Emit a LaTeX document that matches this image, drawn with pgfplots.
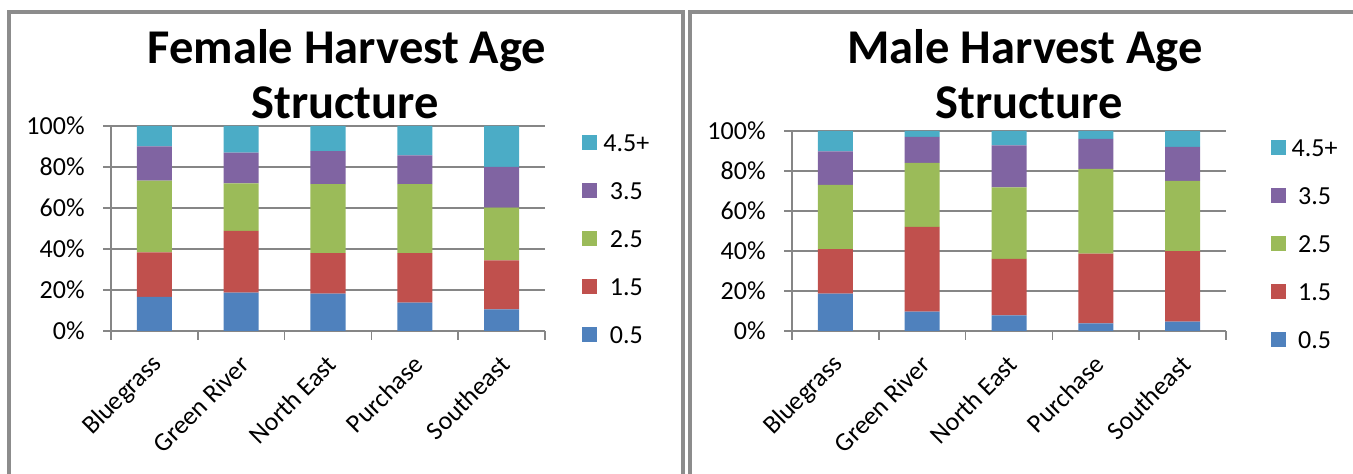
\documentclass[border=0pt]{standalone}
\usepackage{fontspec}
\setmainfont{Carlito}
\usepackage{pgfplots}
\pgfplotsset{compat=1.18}
\usepackage{pgfplotstable}

\definecolor{c05}{HTML}{4F81BD}
\definecolor{c15}{HTML}{C0504D}
\definecolor{c25}{HTML}{9BBB59}
\definecolor{c35}{HTML}{8064A2}
\definecolor{c45}{HTML}{4BACC6}
\definecolor{axgray}{HTML}{868686}
\definecolor{framegray}{HTML}{8C8C8C}

% share of harvest by age class (percent), regions 0..4
\pgfplotstableread{
x  a05  a15  a25  a35  a45
0  16.6 21.8 34.9 16.8  9.9
1  18.7 30.1 23.2 15.0 13.0
2  18.2 19.8 33.7 16.1 12.2
3  13.8 24.2 33.7 14.0 14.3
4  10.6 23.9 25.7 19.8 20.0
}\female

\pgfplotstableread{
x  a05  a15  a25  a35  a45
0  18.7 22.2 32.1 16.8 10.2
1   9.7 42.4 31.9 13.0  3.0
2   7.8 28.3 35.7 21.0  7.2
3   3.8 34.9 42.3 15.0  4.0
4   4.7 35.2 35.1 17.0  8.0
}\male

\pgfplotsset{
  agestyle/.style={
    scale only axis, width=217pt,
    ybar stacked, bar width=17.5pt,
    xmin=-0.5, xmax=4.5, ymin=0, ymax=100,
    xtick={0,...,4},
    xticklabels={Bluegrass,Green River,North East,Purchase,Southeast},
    minor xtick={-0.5,0.5,...,4.5},
    ytick={0,20,...,100},
    yticklabel={\pgfmathprintnumber{\tick}\%},
    axis x line*=bottom, axis y line*=left,
    axis line style={axgray, line width=0.75pt},
    tick align=outside,
    major tick length=4pt, minor tick length=4.5pt,
    tick style={axgray, line width=0.75pt},
    major x tick style={draw=none},
    ymajorgrids, grid style={axgray, line width=0.75pt},
    tick label style={font=\fontsize{13}{15}\selectfont},
    /pgf/number format/assume math mode=true,
    yticklabel style={inner sep=0pt, xshift=-9pt},
    xticklabel style={xshift=2pt, yshift=-10.5pt, rotate=45, anchor=east, inner sep=0pt},
    reverse legend,
    legend style={draw=none, fill=none, inner sep=0pt, anchor=west,
      font=\fontsize{13}{15}\selectfont, row sep=15pt,
      nodes={inner sep=0pt, text height=9pt, text depth=0pt},
      /tikz/every odd column/.append style={column sep=3pt}},
    legend image code/.code={\fill[##1] (0pt,-3.75pt) rectangle (7.5pt,3.75pt);},
  },
}

\begin{document}
\begin{tikzpicture}[x=0.5pt, y=-0.5pt]
\useasboundingbox (0,0) rectangle (1353,474);
\clip (0,0) rectangle (1353,474);

\draw[framegray, line width=2pt] (9,490) -- (9,12.5) -- (683,12.5) -- (683,490);
\draw[framegray, line width=2pt] (690,490) -- (690,12.5) -- (1370,12.5);

\node[anchor=base, font=\fontsize{24.25}{28}\selectfont\bfseries] at (347,64) {Female Harvest Age};
\node[anchor=base, font=\fontsize{24.25}{28}\selectfont\bfseries] at (345,119) {Structure};
\node[anchor=base, font=\fontsize{24.25}{28}\selectfont\bfseries] at (1025,64) {Male Harvest Age};
\node[anchor=base, font=\fontsize{24.25}{28}\selectfont\bfseries] at (1029,119) {Structure};

\begin{axis}[agestyle, height=102.5pt,
  at={(55.5pt,-165.5pt)}, anchor=south west,
  legend style={at={(1.0853,0.452)}}]
\addplot[fill=c05, draw=none] table[x=x, y=a05] {\female}; \addlegendentry{0.5}
\addplot[fill=c15, draw=none] table[x=x, y=a15] {\female}; \addlegendentry{1.5}
\addplot[fill=c25, draw=none] table[x=x, y=a25] {\female}; \addlegendentry{2.5}
\addplot[fill=c35, draw=none] table[x=x, y=a35] {\female}; \addlegendentry{3.5}
\addplot[fill=c45, draw=none] table[x=x, y=a45] {\female}; \addlegendentry{4.5+}
\end{axis}

\begin{axis}[agestyle, height=100pt,
  at={(396pt,-165.5pt)}, anchor=south west,
  legend style={at={(1.1018,0.4375)}}]
\addplot[fill=c05, draw=none] table[x=x, y=a05] {\male}; \addlegendentry{0.5}
\addplot[fill=c15, draw=none] table[x=x, y=a15] {\male}; \addlegendentry{1.5}
\addplot[fill=c25, draw=none] table[x=x, y=a25] {\male}; \addlegendentry{2.5}
\addplot[fill=c35, draw=none] table[x=x, y=a35] {\male}; \addlegendentry{3.5}
\addplot[fill=c45, draw=none] table[x=x, y=a45] {\male}; \addlegendentry{4.5+}
\end{axis}
\end{tikzpicture}
\end{document}
